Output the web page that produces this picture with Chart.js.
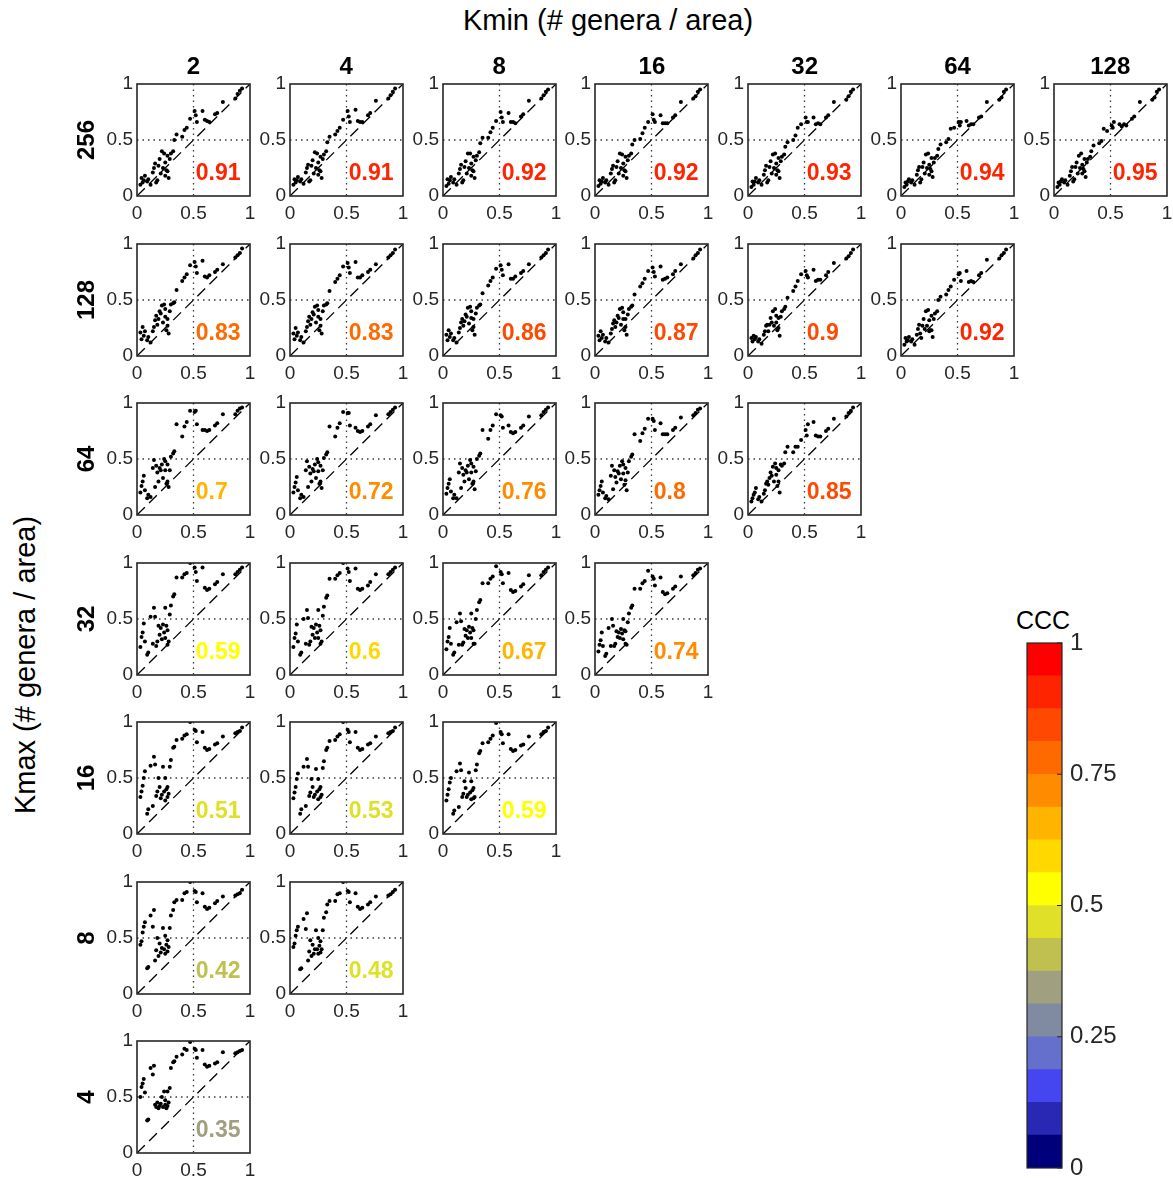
<!DOCTYPE html>
<html>
<head>
<meta charset="utf-8">
<script src="https://cdn.jsdelivr.net/npm/chart.js@4.4.1/dist/chart.umd.min.js"></script>
<style>
  body { margin: 0; background: #fff; }
  #fig { position: relative; width: 1173px; height: 1180px; overflow: hidden;
         font-family: 'Liberation Sans', Arial, sans-serif; color: #262626; }
  .lbl { position: absolute; white-space: nowrap; line-height: 1; transform: translate(-50%, -50%); }
  .rot { transform: translate(-50%, -50%) rotate(-90deg); }
  .hdr { font-weight: bold; font-size: 24px; color: #000; }
  canvas { position: absolute; }
</style>
</head>
<body>
<div id="fig"></div>
<script>
// column / row headers
const kminLabels = ['2', '4', '8', '16', '32', '64', '128'];
const kmaxLabels = ['256', '128', '64', '32', '16', '8', '4'];

// observed values (x), shared by every panel
const obsX = [0.87, 0.89, 0.91, 0.93,
  0.76, 0.71, 0.69, 0.64, 0.62, 0.60,
  0.58, 0.53, 0.52, 0.51, 0.47, 0.44, 0.42, 0.40,
  0.35, 0.33, 0.32, 0.30,
  0.29, 0.28, 0.27, 0.27, 0.26, 0.25, 0.25, 0.24, 0.23, 0.22, 0.21, 0.20, 0.19, 0.18, 0.17, 0.16, 0.15, 0.14,
  0.12, 0.10, 0.09, 0.07, 0.06, 0.05, 0.04, 0.03];

// predicted values (y), one list per panel: y<Kmax>_<Kmin>
const y256_2 = [0.87, 0.91, 0.94, 0.96, 0.84, 0.74, 0.73, 0.66, 0.67, 0.68, 0.76, 0.66, 0.72, 0.76, 0.69, 0.61, 0.59, 0.53, 0.55, 0.50, 0.40, 0.38,
  0.33, 0.16, 0.36, 0.22, 0.23, 0.18, 0.30, 0.38, 0.25, 0.40, 0.20, 0.33, 0.27, 0.14, 0.12, 0.29, 0.25, 0.21, 0.10, 0.15, 0.13, 0.18, 0.14, 0.12, 0.16, 0.10];
const y256_4 = [0.87, 0.90, 0.93, 0.96, 0.85, 0.74, 0.72, 0.66, 0.66, 0.67, 0.77, 0.66, 0.71, 0.76, 0.68, 0.61, 0.58, 0.55, 0.53, 0.48, 0.40, 0.37,
  0.33, 0.16, 0.35, 0.22, 0.23, 0.19, 0.30, 0.38, 0.25, 0.39, 0.20, 0.32, 0.27, 0.14, 0.13, 0.28, 0.25, 0.21, 0.11, 0.15, 0.13, 0.17, 0.14, 0.12, 0.15, 0.10];
const y256_8 = [0.87, 0.90, 0.93, 0.95, 0.85, 0.73, 0.71, 0.65, 0.66, 0.66, 0.74, 0.66, 0.70, 0.75, 0.67, 0.61, 0.57, 0.52, 0.52, 0.47, 0.39, 0.36,
  0.32, 0.16, 0.35, 0.22, 0.23, 0.18, 0.29, 0.38, 0.25, 0.38, 0.20, 0.31, 0.26, 0.14, 0.12, 0.28, 0.24, 0.20, 0.10, 0.15, 0.12, 0.17, 0.14, 0.11, 0.15, 0.09];
const y256_16 = [0.87, 0.89, 0.93, 0.95, 0.84, 0.72, 0.70, 0.65, 0.65, 0.65, 0.72, 0.66, 0.68, 0.73, 0.66, 0.61, 0.56, 0.51, 0.50, 0.46, 0.38, 0.36,
  0.32, 0.16, 0.35, 0.22, 0.23, 0.18, 0.29, 0.37, 0.25, 0.38, 0.20, 0.31, 0.26, 0.14, 0.12, 0.27, 0.24, 0.20, 0.10, 0.14, 0.12, 0.16, 0.13, 0.11, 0.14, 0.09];
const y256_32 = [0.86, 0.89, 0.93, 0.95, 0.84, 0.72, 0.70, 0.64, 0.65, 0.64, 0.70, 0.66, 0.66, 0.70, 0.64, 0.61, 0.54, 0.50, 0.48, 0.44, 0.37, 0.35,
  0.31, 0.16, 0.34, 0.22, 0.23, 0.19, 0.29, 0.38, 0.25, 0.37, 0.20, 0.31, 0.26, 0.14, 0.12, 0.27, 0.23, 0.19, 0.10, 0.14, 0.12, 0.16, 0.13, 0.10, 0.13, 0.08];
const y256_64 = [0.86, 0.88, 0.93, 0.95, 0.84, 0.71, 0.70, 0.64, 0.64, 0.63, 0.67, 0.66, 0.63, 0.66, 0.61, 0.60, 0.51, 0.48, 0.46, 0.42, 0.36, 0.34,
  0.30, 0.17, 0.34, 0.22, 0.24, 0.19, 0.28, 0.38, 0.25, 0.37, 0.20, 0.30, 0.26, 0.15, 0.12, 0.26, 0.23, 0.19, 0.10, 0.14, 0.12, 0.15, 0.13, 0.10, 0.12, 0.08];
const y256_128 = [0.86, 0.88, 0.93, 0.95, 0.84, 0.71, 0.69, 0.63, 0.64, 0.62, 0.64, 0.66, 0.61, 0.63, 0.58, 0.60, 0.49, 0.47, 0.45, 0.40, 0.35, 0.33,
  0.30, 0.17, 0.33, 0.22, 0.24, 0.20, 0.28, 0.38, 0.25, 0.36, 0.20, 0.30, 0.26, 0.15, 0.13, 0.26, 0.22, 0.18, 0.10, 0.14, 0.12, 0.15, 0.13, 0.10, 0.12, 0.08];

const y128_2 = [0.88, 0.90, 0.92, 0.96, 0.82, 0.77, 0.75, 0.72, 0.70, 0.71, 0.85, 0.74, 0.80, 0.84, 0.81, 0.73, 0.70, 0.67, 0.59, 0.48, 0.47, 0.46,
  0.40, 0.20, 0.33, 0.27, 0.23, 0.35, 0.42, 0.46, 0.30, 0.45, 0.38, 0.40, 0.33, 0.28, 0.36, 0.32, 0.26, 0.22, 0.12, 0.17, 0.14, 0.22, 0.18, 0.26, 0.15, 0.21];
const y128_4 = [0.88, 0.90, 0.92, 0.95, 0.82, 0.77, 0.75, 0.72, 0.70, 0.70, 0.84, 0.74, 0.79, 0.83, 0.80, 0.72, 0.69, 0.66, 0.58, 0.47, 0.46, 0.45,
  0.40, 0.20, 0.33, 0.27, 0.23, 0.35, 0.41, 0.45, 0.30, 0.44, 0.37, 0.39, 0.33, 0.28, 0.35, 0.31, 0.26, 0.22, 0.12, 0.17, 0.14, 0.21, 0.18, 0.25, 0.15, 0.20];
const y128_8 = [0.88, 0.90, 0.92, 0.95, 0.82, 0.76, 0.74, 0.71, 0.69, 0.69, 0.82, 0.72, 0.77, 0.81, 0.78, 0.70, 0.67, 0.63, 0.56, 0.46, 0.45, 0.43,
  0.38, 0.19, 0.33, 0.26, 0.23, 0.34, 0.40, 0.44, 0.29, 0.43, 0.35, 0.37, 0.31, 0.27, 0.33, 0.30, 0.25, 0.21, 0.12, 0.16, 0.14, 0.20, 0.17, 0.23, 0.14, 0.19];
const y128_16 = [0.87, 0.90, 0.92, 0.95, 0.82, 0.76, 0.73, 0.70, 0.69, 0.68, 0.80, 0.71, 0.75, 0.79, 0.76, 0.69, 0.65, 0.62, 0.55, 0.45, 0.44, 0.42,
  0.37, 0.19, 0.33, 0.26, 0.23, 0.33, 0.39, 0.43, 0.28, 0.42, 0.34, 0.36, 0.30, 0.26, 0.32, 0.29, 0.24, 0.20, 0.12, 0.16, 0.13, 0.19, 0.16, 0.22, 0.14, 0.18];
const y128_32 = [0.87, 0.89, 0.92, 0.95, 0.83, 0.75, 0.72, 0.68, 0.68, 0.67, 0.77, 0.70, 0.72, 0.76, 0.73, 0.67, 0.62, 0.58, 0.52, 0.44, 0.42, 0.40,
  0.35, 0.18, 0.34, 0.25, 0.23, 0.30, 0.36, 0.42, 0.27, 0.40, 0.30, 0.34, 0.28, 0.22, 0.28, 0.27, 0.22, 0.19, 0.11, 0.15, 0.13, 0.17, 0.15, 0.18, 0.13, 0.16];
const y128_64 = [0.87, 0.90, 0.92, 0.95, 0.86, 0.74, 0.72, 0.66, 0.67, 0.66, 0.76, 0.67, 0.74, 0.73, 0.68, 0.62, 0.59, 0.55, 0.53, 0.50, 0.40, 0.38,
  0.33, 0.17, 0.36, 0.23, 0.23, 0.22, 0.32, 0.41, 0.27, 0.40, 0.24, 0.33, 0.27, 0.16, 0.20, 0.28, 0.24, 0.19, 0.10, 0.15, 0.13, 0.17, 0.14, 0.13, 0.16, 0.10];

const y64_2 = [0.90, 0.93, 0.95, 0.96, 0.90, 0.82, 0.80, 0.76, 0.75, 0.76, 0.76, 0.81, 0.93, 0.92, 0.93, 0.83, 0.79, 0.70, 0.81, 0.57, 0.55, 0.52,
  0.40, 0.25, 0.30, 0.45, 0.28, 0.40, 0.48, 0.50, 0.33, 0.45, 0.40, 0.42, 0.30, 0.38, 0.44, 0.25, 0.49, 0.42, 0.16, 0.18, 0.15, 0.22, 0.35, 0.30, 0.26, 0.20];
const y64_4 = [0.90, 0.92, 0.94, 0.96, 0.89, 0.81, 0.79, 0.75, 0.74, 0.75, 0.78, 0.80, 0.91, 0.91, 0.92, 0.82, 0.78, 0.70, 0.79, 0.56, 0.54, 0.51,
  0.40, 0.24, 0.30, 0.44, 0.28, 0.39, 0.47, 0.50, 0.33, 0.45, 0.39, 0.41, 0.30, 0.37, 0.43, 0.25, 0.48, 0.40, 0.16, 0.18, 0.15, 0.22, 0.34, 0.29, 0.25, 0.20];
const y64_8 = [0.89, 0.92, 0.94, 0.96, 0.88, 0.80, 0.78, 0.74, 0.73, 0.74, 0.80, 0.78, 0.88, 0.89, 0.90, 0.80, 0.76, 0.68, 0.76, 0.55, 0.53, 0.50,
  0.39, 0.23, 0.30, 0.43, 0.28, 0.38, 0.46, 0.49, 0.32, 0.44, 0.38, 0.40, 0.30, 0.36, 0.42, 0.24, 0.46, 0.38, 0.15, 0.18, 0.15, 0.21, 0.32, 0.28, 0.24, 0.19];
const y64_16 = [0.89, 0.91, 0.94, 0.95, 0.87, 0.78, 0.76, 0.72, 0.72, 0.72, 0.82, 0.76, 0.84, 0.86, 0.86, 0.77, 0.73, 0.66, 0.72, 0.54, 0.52, 0.48,
  0.38, 0.22, 0.31, 0.42, 0.27, 0.37, 0.45, 0.48, 0.32, 0.44, 0.37, 0.39, 0.29, 0.34, 0.40, 0.23, 0.44, 0.35, 0.14, 0.17, 0.15, 0.20, 0.30, 0.26, 0.22, 0.18];
const y64_32 = [0.88, 0.91, 0.93, 0.96, 0.86, 0.77, 0.75, 0.70, 0.70, 0.71, 0.83, 0.81, 0.71, 0.76, 0.67, 0.61, 0.61, 0.56, 0.61, 0.56, 0.46, 0.44,
  0.45, 0.20, 0.40, 0.30, 0.26, 0.36, 0.42, 0.46, 0.30, 0.43, 0.35, 0.38, 0.33, 0.27, 0.30, 0.28, 0.22, 0.19, 0.12, 0.16, 0.14, 0.24, 0.20, 0.18, 0.15, 0.12];

const y32_2 = [0.90, 0.92, 0.94, 0.96, 0.90, 0.83, 0.81, 0.77, 0.76, 0.78, 0.96, 0.84, 0.92, 0.96, 1.00, 0.91, 0.90, 0.87, 0.87, 0.72, 0.70, 0.62,
  0.54, 0.30, 0.40, 0.27, 0.44, 0.33, 0.60, 0.38, 0.45, 0.32, 0.42, 0.36, 0.44, 0.30, 0.26, 0.52, 0.60, 0.28, 0.52, 0.20, 0.18, 0.30, 0.46, 0.38, 0.34, 0.25];
const y32_4 = [0.90, 0.92, 0.94, 0.96, 0.90, 0.83, 0.80, 0.77, 0.76, 0.77, 0.95, 0.84, 0.92, 0.95, 1.00, 0.91, 0.89, 0.86, 0.86, 0.71, 0.69, 0.61,
  0.53, 0.30, 0.40, 0.28, 0.44, 0.33, 0.58, 0.38, 0.45, 0.33, 0.42, 0.36, 0.43, 0.30, 0.27, 0.51, 0.58, 0.28, 0.50, 0.20, 0.18, 0.30, 0.45, 0.37, 0.33, 0.25];
const y32_8 = [0.89, 0.92, 0.94, 0.96, 0.89, 0.81, 0.79, 0.75, 0.74, 0.76, 0.91, 0.82, 0.90, 0.92, 0.97, 0.88, 0.86, 0.82, 0.82, 0.67, 0.65, 0.58,
  0.50, 0.28, 0.40, 0.28, 0.42, 0.33, 0.55, 0.38, 0.43, 0.33, 0.40, 0.35, 0.41, 0.29, 0.27, 0.48, 0.55, 0.27, 0.47, 0.20, 0.18, 0.28, 0.42, 0.34, 0.30, 0.23];
const y32_16 = [0.89, 0.91, 0.94, 0.95, 0.88, 0.79, 0.77, 0.73, 0.72, 0.74, 0.87, 0.80, 0.86, 0.88, 0.93, 0.84, 0.82, 0.77, 0.77, 0.62, 0.60, 0.55,
  0.47, 0.27, 0.39, 0.28, 0.40, 0.32, 0.50, 0.37, 0.41, 0.33, 0.38, 0.34, 0.39, 0.28, 0.26, 0.44, 0.50, 0.26, 0.42, 0.19, 0.17, 0.26, 0.38, 0.31, 0.27, 0.21];

const y16_2 = [0.90, 0.91, 0.92, 0.95, 0.87, 0.81, 0.80, 0.76, 0.75, 0.77, 0.91, 0.82, 0.92, 0.93, 1.00, 0.89, 0.88, 0.85, 0.84, 0.78, 0.77, 0.66,
  0.60, 0.36, 0.42, 0.33, 0.40, 0.50, 0.30, 0.38, 0.60, 0.35, 0.32, 0.42, 0.50, 0.38, 0.34, 0.62, 0.69, 0.25, 0.61, 0.22, 0.18, 0.56, 0.50, 0.43, 0.38, 0.33];
const y16_4 = [0.90, 0.91, 0.92, 0.95, 0.87, 0.81, 0.80, 0.76, 0.75, 0.77, 0.91, 0.82, 0.91, 0.93, 1.00, 0.89, 0.87, 0.84, 0.83, 0.77, 0.75, 0.65,
  0.59, 0.35, 0.42, 0.33, 0.40, 0.49, 0.31, 0.38, 0.58, 0.35, 0.33, 0.42, 0.49, 0.37, 0.34, 0.60, 0.67, 0.25, 0.60, 0.22, 0.18, 0.54, 0.49, 0.42, 0.37, 0.32];
const y16_8 = [0.89, 0.91, 0.92, 0.95, 0.87, 0.80, 0.79, 0.75, 0.74, 0.76, 0.89, 0.81, 0.89, 0.91, 0.99, 0.88, 0.85, 0.82, 0.81, 0.74, 0.72, 0.62,
  0.57, 0.33, 0.41, 0.32, 0.39, 0.47, 0.31, 0.37, 0.55, 0.35, 0.33, 0.41, 0.47, 0.36, 0.33, 0.57, 0.63, 0.24, 0.56, 0.21, 0.18, 0.50, 0.46, 0.40, 0.35, 0.30];

const y8_2 = [0.88, 0.89, 0.90, 0.93, 0.87, 0.83, 0.81, 0.77, 0.76, 0.78, 0.90, 0.82, 0.91, 0.92, 1.00, 0.91, 0.90, 0.84, 0.84, 0.82, 0.75, 0.70,
  0.59, 0.42, 0.48, 0.38, 0.44, 0.36, 0.52, 0.40, 0.59, 0.41, 0.37, 0.45, 0.34, 0.50, 0.39, 0.30, 0.75, 0.60, 0.70, 0.24, 0.23, 0.64, 0.60, 0.55, 0.47, 0.44];
const y8_4 = [0.88, 0.89, 0.91, 0.93, 0.87, 0.82, 0.80, 0.77, 0.76, 0.78, 0.90, 0.82, 0.91, 0.92, 1.00, 0.90, 0.89, 0.83, 0.83, 0.80, 0.73, 0.68,
  0.57, 0.40, 0.47, 0.37, 0.43, 0.36, 0.50, 0.40, 0.57, 0.40, 0.36, 0.44, 0.34, 0.48, 0.38, 0.30, 0.72, 0.58, 0.67, 0.23, 0.22, 0.60, 0.57, 0.52, 0.45, 0.42];

const y4_2 = [0.89, 0.90, 0.91, 0.92, 0.90, 0.81, 0.80, 0.78, 0.77, 0.79, 0.92, 0.85, 0.92, 0.93, 0.99, 0.92, 0.93, 0.88, 0.86, 0.82, 0.81, 0.76,
  0.58, 0.45, 0.55, 0.42, 0.40, 0.47, 0.43, 0.55, 0.41, 0.50, 0.44, 0.42, 0.40, 0.45, 0.41, 0.43, 0.78, 0.70, 0.76, 0.30, 0.29, 0.54, 0.66, 0.62, 0.59, 0.50];

// concordance correlation coefficient per panel (row = Kmax)
const ccc256 = [0.91, 0.91, 0.92, 0.92, 0.93, 0.94, 0.95];
const ccc128 = [0.83, 0.83, 0.86, 0.87, 0.9, 0.92];
const ccc64 = [0.7, 0.72, 0.76, 0.8, 0.85];
const ccc32 = [0.59, 0.6, 0.67, 0.74];
const ccc16 = [0.51, 0.53, 0.59];
const ccc8 = [0.42, 0.48];
const ccc4 = [0.35];

// colour bar levels, bottom to top
const cccEdges = [0, 0.0625, 0.125, 0.1875, 0.25, 0.3125, 0.375, 0.4375, 0.5, 0.5625, 0.625, 0.6875, 0.75, 0.8125, 0.875, 0.9375, 1];
const cccColors = ['#00007a', '#2828b4', '#4646f0', '#6470cc', '#808aa0', '#a0a080', '#c0c050', '#e0e028',
  '#ffff00', '#ffd800', '#ffb400', '#ff8c00', '#ff6a00', '#ff4800', '#ff2400', '#ff0000'];
const cccTicks = [0, 0.25, 0.5, 0.75, 1];

const rows = [
  { ys: [y256_2, y256_4, y256_8, y256_16, y256_32, y256_64, y256_128], ccc: ccc256 },
  { ys: [y128_2, y128_4, y128_8, y128_16, y128_32, y128_64], ccc: ccc128 },
  { ys: [y64_2, y64_4, y64_8, y64_16, y64_32], ccc: ccc64 },
  { ys: [y32_2, y32_4, y32_8, y32_16], ccc: ccc32 },
  { ys: [y16_2, y16_4, y16_8], ccc: ccc16 },
  { ys: [y8_2, y8_4], ccc: ccc8 },
  { ys: [y4_2], ccc: ccc4 }
];

const FONT = "'Liberation Sans', Arial, sans-serif";
const TXT = '#262626';
const fig = document.getElementById('fig');

// layout of the panel grid (pixels)
const PLOT_LEFT0 = 137, PLOT_TOP0 = 84, COL_STEP = 152.8, ROW_STEP = 159.5;
const PLOT_W = 113, PLOT_H = 112;
const PAD_L = 42, PAD_T = 14, PAD_R = 14, PAD_B = 32;

function addLabel(text, x, y, cls, style) {
  const d = document.createElement('div');
  d.className = 'lbl ' + (cls || '');
  d.textContent = text;
  d.style.left = x + 'px';
  d.style.top = y + 'px';
  Object.assign(d.style, style || {});
  fig.appendChild(d);
}

function cccColor(c) {
  const i = Math.min(15, Math.max(0, Math.round(c * 16) - 1));
  return cccColors[i];
}

// scales must not push the plot area around with their label overhang
function noScalePadding(s) {
  s.paddingTop = 0; s.paddingBottom = 0; s.paddingLeft = 0; s.paddingRight = 0;
}

const panelDecor = {
  id: 'panelDecor',
  beforeDatasetsDraw(chart) {
    const { ctx, chartArea: a, scales: { x, y } } = chart;
    const gx = x.getPixelForValue(0.5), gy = y.getPixelForValue(0.5);
    ctx.save();
    ctx.strokeStyle = '#3a3a3a';
    ctx.lineWidth = 1.3;
    ctx.setLineDash([1.5, 4]);
    ctx.beginPath();
    ctx.moveTo(gx, a.top); ctx.lineTo(gx, a.bottom);
    ctx.moveTo(a.left, gy); ctx.lineTo(a.right, gy);
    ctx.stroke();
    ctx.restore();
  },
  afterDatasetsDraw(chart, args, opts) {
    const { ctx, chartArea: a, scales: { x, y } } = chart;
    ctx.save();
    ctx.strokeStyle = TXT;
    ctx.lineWidth = 1.6;
    ctx.strokeRect(a.left, a.top, a.right - a.left, a.bottom - a.top);
    ctx.font = 'bold 23px ' + FONT;
    ctx.fillStyle = cccColor(opts.ccc);
    ctx.textAlign = 'left';
    ctx.textBaseline = 'middle';
    ctx.fillText(String(opts.ccc), x.getPixelForValue(0.52), y.getPixelForValue(0.2));
    ctx.restore();
  }
};

function axisOpts(isX) {
  return {
    type: 'linear', min: 0, max: 1,
    position: isX ? 'bottom' : 'left',
    ticks: {
      stepSize: 0.5, autoSkip: false, maxRotation: 0, padding: isX ? 6 : 4,
      color: TXT, font: { family: FONT, size: 19 },
      callback: v => String(v)
    },
    grid: { display: false, drawTicks: false },
    border: { display: false },
    afterFit: s => {
      if (isX) s.height = PAD_B; else s.width = PAD_L;
      noScalePadding(s);
    }
  };
}

function makePanel(r, c, ys, ccc) {
  const left = Math.round(PLOT_LEFT0 + c * COL_STEP) - PAD_L;
  const top = Math.round(PLOT_TOP0 + r * ROW_STEP) - PAD_T;
  const cv = document.createElement('canvas');
  cv.width = PAD_L + PLOT_W + PAD_R;
  cv.height = PAD_T + PLOT_H + PAD_B;
  cv.style.left = left + 'px';
  cv.style.top = top + 'px';
  fig.appendChild(cv);

  new Chart(cv, {
    type: 'scatter',
    data: {
      datasets: [
        {
          data: obsX.map((x, k) => ({ x: x, y: ys[k] })),
          backgroundColor: '#000', borderWidth: 0, pointRadius: 2
        },
        {
          type: 'line',
          data: [{ x: 0, y: 0 }, { x: 1, y: 1 }],
          borderColor: '#000', borderWidth: 1.3, borderDash: [11, 6],
          pointRadius: 0, fill: false
        }
      ]
    },
    options: {
      responsive: false, animation: false, devicePixelRatio: 1,
      layout: { padding: { left: 0, top: PAD_T, right: PAD_R, bottom: 0 }, autoPadding: false },
      plugins: { legend: { display: false }, tooltip: { enabled: false }, panelDecor: { ccc: ccc } },
      scales: { x: axisOpts(true), y: axisOpts(false) }
    },
    plugins: [panelDecor]
  });
}

rows.forEach((row, r) => {
  row.ys.forEach((ys, c) => makePanel(r, c, ys, row.ccc[c]));
});

// headers and axis titles
kminLabels.forEach((t, c) => addLabel(t, PLOT_LEFT0 + c * COL_STEP + PLOT_W / 2, 66, 'hdr'));
kmaxLabels.forEach((t, r) => addLabel(t, 86, PLOT_TOP0 + r * ROW_STEP + PLOT_H / 2, 'hdr rot'));
addLabel('Kmin (# genera / area)', 608, 20, '', { fontSize: '29px', color: '#000' });
addLabel('Kmax (# genera / area)', 25, 665, 'rot', { fontSize: '29px', color: '#000' });
addLabel('CCC', 1043, 620, '', { fontSize: '25px', color: '#000' });

// colour bar
const cbAxis = {
  id: 'cbAxis',
  afterDatasetsDraw(chart) {
    const { ctx, chartArea: a, scales: { y } } = chart;
    ctx.save();
    ctx.strokeStyle = TXT;
    ctx.lineWidth = 1.2;
    ctx.strokeRect(a.left, a.top, a.right - a.left, a.bottom - a.top);
    ctx.beginPath();
    cccTicks.forEach(t => {
      const py = y.getPixelForValue(t);
      ctx.moveTo(a.right, py); ctx.lineTo(a.right - 5, py);
    });
    ctx.stroke();
    ctx.restore();
  }
};

const cb = document.createElement('canvas');
cb.width = 10 + 35 + 80;
cb.height = 16 + 525 + 16;
cb.style.left = '1017px';
cb.style.top = '627px';
fig.appendChild(cb);

new Chart(cb, {
  type: 'bar',
  data: {
    labels: ['CCC'],
    datasets: cccColors.map((col, i) => ({
      data: [[cccEdges[i], cccEdges[i + 1]]],
      backgroundColor: col, borderWidth: 0,
      barPercentage: 1, categoryPercentage: 1, grouped: false
    }))
  },
  options: {
    responsive: false, animation: false, devicePixelRatio: 1,
    layout: { padding: { left: 10, top: 16, right: 0, bottom: 16 }, autoPadding: false },
    plugins: { legend: { display: false }, tooltip: { enabled: false } },
    scales: {
      x: { display: false },
      y: {
        position: 'right', min: 0, max: 1,
        afterBuildTicks: s => { s.ticks = cccTicks.map(v => ({ value: v })); },
        ticks: { padding: 8, color: TXT, font: { family: FONT, size: 24 }, callback: v => String(v) },
        grid: { display: false, drawTicks: false },
        border: { display: false },
        afterFit: s => { s.width = 80; noScalePadding(s); }
      }
    }
  },
  plugins: [cbAxis]
});
</script>
</body>
</html>
